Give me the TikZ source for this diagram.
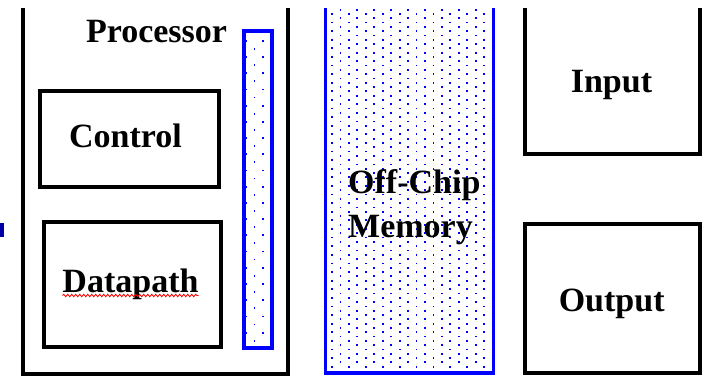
\documentclass[tikz,border=0pt]{standalone}
\usepackage{fontspec}
\setmainfont{Liberation Serif}
\usetikzlibrary{decorations.pathmorphing}
\definecolor{dotblue}{RGB}{0,0,255}
\definecolor{markblue}{RGB}{0,0,170}
\tikzset{
  blk/.style={draw=black,line width=4pt},
  blu/.style={draw=dotblue,line width=3.6pt},
  lbl/.style={font=\fontsize{34}{41}\selectfont\bfseries,inner sep=0pt,anchor=base},
  dot/.style={fill=dotblue}
}
\begin{document}
\begin{tikzpicture}[x=1pt,y=-1pt]
\useasboundingbox (0,0) rectangle (705,377);
% memory dots
\foreach \k in {0,...,19}{
  \pgfmathsetmacro{\xx}{332+8.45*\k}
  \pgfmathsetmacro{\yo}{mod(\k,2)==0 ? 14 : 9.7}
  \foreach \j in {0,...,41}{
    \fill[dot] ({\xx-0.9},{\yo+8.6*\j-0.9}) rectangle ++(1.8,1.8);
  }
}
% cache dots
\foreach \k in {0,1,2}{
  \pgfmathsetmacro{\xx}{246+8.5*\k}
  \pgfmathsetmacro{\yo}{\k==1 ? 49 : 41}
  \foreach \j in {0,...,18}{
    \fill[dot] ({\xx-0.9},{\yo+16.2*\j-0.9}) rectangle ++(1.8,1.8);
  }
}
% processor (open top)
\draw[blk] (23,8) -- (23,373.5) -- (288,373.5) -- (288,8);
% control & datapath
\draw[blk] (39.5,91) rectangle (219,187);
\draw[blk] (43.5,222) rectangle (221,346.5);
% cache bar
\draw[blu] (244,31) rectangle (272,348);
% memory (open top)
\draw[blu] (325.5,8) -- (325.5,373) -- (493.5,373) -- (493.5,8);
% input (open top) and output
\draw[blk] (524.5,8) -- (524.5,154.5) -- (699.5,154.5) -- (699.5,8);
\draw[blk] (524.5,224.5) rectangle (699.5,373);
% small mark at left edge
\fill[markblue] (0,223) rectangle (3.5,237);
% labels
\node[lbl] (proc) at (156.5,43) {Processor};
\node[lbl] (ctrl) at (125.5,148) {Control};
\node[lbl] (dp) at (130.5,292) {Datapath};
\node[lbl] (inp) at (611.5,93) {Input};
\node[lbl] (outp) at (611.7,312) {Output};
\node[lbl,anchor=base west] (mem1) at (348,194) {Off-Chip};
\node[lbl,anchor=base west] (mem2) at (348,237) {Memory};
% red wavy underline
\coordinate (wa) at (62.5,295.5);
\coordinate (wb) at (198.5,295.5);
\draw[red,line width=0.8pt,decorate,decoration={snake,segment length=4pt,amplitude=1.3pt}] (wa) -- (wb);
\end{tikzpicture}
\end{document}
